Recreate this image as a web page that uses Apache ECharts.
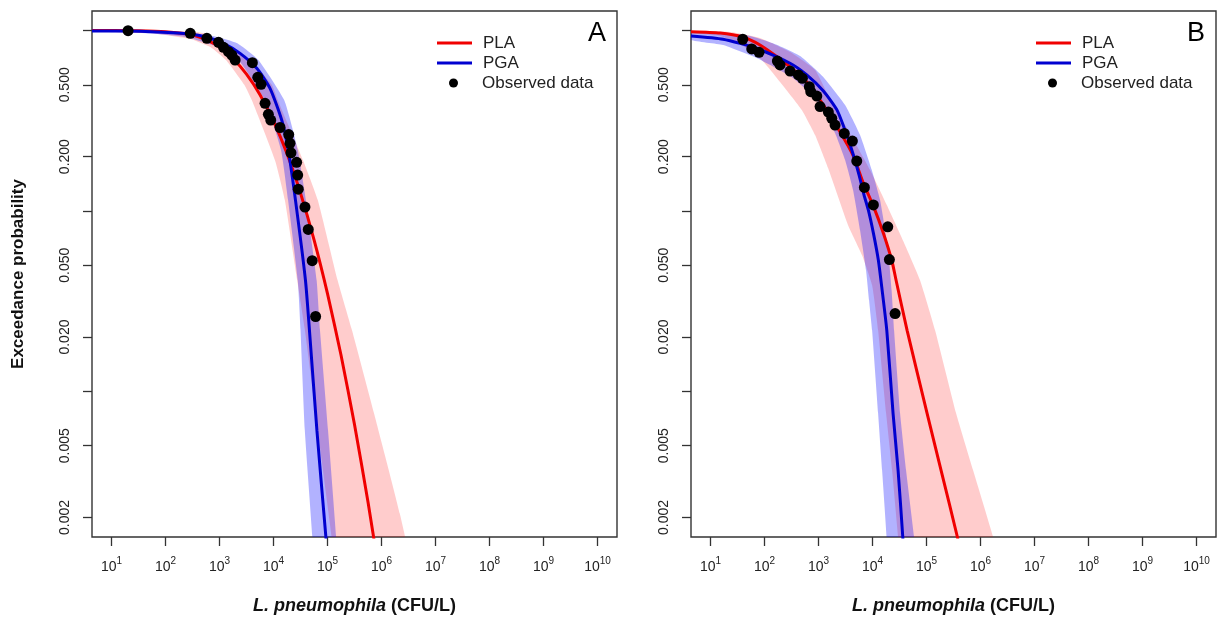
<!DOCTYPE html>
<html><head><meta charset="utf-8">
<script src="https://cdn.jsdelivr.net/npm/echarts@6/dist/echarts.min.js"></script>
<style>html,body{margin:0;padding:0;background:#fff}#chart{width:1218px;height:621px}</style>
</head><body><div id="chart"></div>
<script>
// x values: log10(CFU/L); y values: exceedance probability
const xTickExponents = [1, 2, 3, 4, 5, 6, 7, 8, 9, 10];
const yTickProbs = [0.002, 0.005, 0.01, 0.02, 0.05, 0.1, 0.2, 0.5, 1];
const yLabelProbs = [0.002, 0.005, 0.02, 0.05, 0.2, 0.5];
const panelLetters = ['A', 'B'];

// ---------- Panel A ----------
const obsA_x = [1.308, 2.459, 2.767, 2.982, 3.074, 3.166, 3.229, 3.290, 3.609, 3.709, 3.770, 3.844, 3.905, 3.949, 4.121, 4.282, 4.306, 4.324, 4.429, 4.448, 4.459, 4.583, 4.644, 4.717, 4.780];
const obsA_p = [0.997, 0.965, 0.905, 0.860, 0.807, 0.763, 0.731, 0.686, 0.663, 0.550, 0.503, 0.395, 0.343, 0.319, 0.290, 0.265, 0.237, 0.210, 0.186, 0.158, 0.132, 0.105, 0.079, 0.053, 0.026];

const plaA_x = [0.64, 1.0, 1.5, 2.0, 2.5, 2.75, 3.0, 3.25, 3.5, 3.75, 4.0, 4.25, 4.5, 4.75, 5.0, 5.25, 5.5, 5.75, 6.0];
const plaA_p = [0.9999, 0.9998, 0.998, 0.985, 0.945, 0.89, 0.81, 0.70, 0.573, 0.441, 0.315, 0.208, 0.1255, 0.0693, 0.0348, 0.0159, 0.00655, 0.00244, 0.00082];

const pgaA_x = [0.64, 1.222, 1.844, 2.459, 2.767, 3.074, 3.382, 3.691, 3.936, 4.152, 4.274, 4.407, 4.592, 4.666, 4.804, 4.970, 5.007];
const pgaA_p = [0.994, 0.993, 0.981, 0.956, 0.917, 0.849, 0.747, 0.617, 0.478, 0.319, 0.217, 0.1148, 0.0413, 0.0218, 0.00608, 0.00156, 0.00116];

const plaBandA_up_x = [0.64, 1.72, 2.46, 2.75, 2.95, 3.23, 3.57, 3.97, 4.08, 4.55, 4.82, 5.19, 5.45, 5.86, 6.34, 6.47];
const plaBandA_up_p = [1.0, 0.996, 0.987, 0.96, 0.88, 0.78, 0.686, 0.50, 0.41, 0.19, 0.115, 0.041, 0.022, 0.0076, 0.0021, 0.00116];
const plaBandA_lo_x = [0.64, 1.17, 1.72, 2.46, 2.83, 3.12, 3.46, 3.60, 4.03, 4.21, 4.44, 4.58, 4.82, 5.08, 5.12];
const plaBandA_lo_p = [0.994, 0.987, 0.969, 0.897, 0.81, 0.686, 0.50, 0.41, 0.19, 0.115, 0.041, 0.022, 0.0061, 0.00156, 0.00116];

const pgaBandA_up_x = [0.64, 1.72, 2.37, 2.92, 3.33, 3.72, 4.20, 4.45, 4.60, 4.80, 4.86, 5.01, 5.16, 5.17];
const pgaBandA_up_p = [1.0, 0.994, 0.975, 0.926, 0.849, 0.686, 0.41, 0.217, 0.115, 0.041, 0.022, 0.0061, 0.00156, 0.00116];
const pgaBandA_lo_x = [0.64, 1.72, 2.37, 2.92, 3.35, 3.84, 4.14, 4.27, 4.45, 4.50, 4.58, 4.72, 4.73];
const pgaBandA_lo_p = [0.9835, 0.962, 0.92, 0.82, 0.686, 0.41, 0.217, 0.115, 0.041, 0.022, 0.0061, 0.00156, 0.00116];

// ---------- Panel B ----------
const obsB_x = [1.598, 1.765, 1.900, 2.239, 2.289, 2.474, 2.628, 2.702, 2.831, 2.857, 2.969, 3.030, 3.183, 3.246, 3.307, 3.478, 3.628, 3.709, 3.850, 4.017, 4.283, 4.313, 4.419];
const obsB_p = [0.894, 0.790, 0.757, 0.677, 0.644, 0.596, 0.567, 0.543, 0.488, 0.458, 0.433, 0.379, 0.353, 0.326, 0.299, 0.269, 0.244, 0.189, 0.135, 0.108, 0.0816, 0.0538, 0.0270];

const plaB_x = [0.64, 1.178, 1.598, 1.918, 2.239, 2.474, 2.783, 3.030, 3.400, 3.646, 3.831, 4.017, 4.202, 4.357, 4.437, 4.641, 5.011, 5.270, 5.572, 5.659];
const plaB_p = [0.985, 0.969, 0.920, 0.831, 0.713, 0.628, 0.518, 0.4115, 0.2735, 0.2013, 0.1426, 0.1063, 0.0753, 0.0533, 0.0413, 0.0218, 0.00756, 0.00365, 0.00156, 0.00116];

const pgaB_x = [0.64, 1.233, 1.857, 2.474, 2.783, 3.091, 3.344, 3.511, 3.646, 3.752, 3.844, 3.924, 4.017, 4.109, 4.172, 4.265, 4.381, 4.474, 4.561, 4.585];
const pgaB_p = [0.932, 0.894, 0.797, 0.658, 0.567, 0.462, 0.362, 0.270, 0.204, 0.158, 0.1224, 0.1010, 0.0753, 0.0533, 0.0378, 0.0218, 0.00756, 0.00365, 0.00156, 0.00116];

const plaBandB_up_x = [0.64, 1.363, 1.918, 2.474, 2.937, 3.178, 3.548, 3.956, 4.265, 4.604, 4.881, 5.159, 5.548, 5.863, 6.233, 6.326];
const plaBandB_up_p = [0.9987, 0.981, 0.909, 0.760, 0.604, 0.439, 0.2806, 0.1684, 0.1077, 0.0646, 0.0413, 0.0218, 0.00756, 0.00365, 0.00156, 0.00116];
const plaBandB_lo_x = [0.64, 1.178, 1.548, 1.950, 2.289, 2.691, 2.937, 3.178, 3.548, 3.807, 3.993, 4.104, 4.252, 4.363, 4.474, 4.511];
const plaBandB_lo_p = [0.9748, 0.932, 0.842, 0.686, 0.518, 0.3623, 0.2632, 0.1727, 0.0834, 0.0569, 0.0388, 0.0218, 0.00756, 0.00365, 0.00156, 0.00116];

const pgaBandB_up_x = [0.64, 1.178, 1.733, 2.159, 2.659, 3.085, 3.493, 3.770, 3.987, 4.141, 4.289, 4.354, 4.400, 4.511, 4.622, 4.770, 4.807];
const pgaBandB_up_p = [0.9873, 0.9748, 0.932, 0.849, 0.722, 0.554, 0.386, 0.2632, 0.1684, 0.1148, 0.0606, 0.0364, 0.0218, 0.00756, 0.00365, 0.00156, 0.00116];
const pgaBandB_lo_x = [0.64, 1.233, 1.857, 2.474, 2.783, 3.085, 3.307, 3.493, 3.641, 3.770, 3.881, 3.937, 3.993, 4.104, 4.178, 4.261, 4.270];
const pgaBandB_lo_p = [0.886, 0.831, 0.704, 0.559, 0.468, 0.3716, 0.270, 0.1913, 0.1304, 0.0782, 0.0469, 0.0320, 0.0218, 0.00756, 0.00365, 0.00156, 0.00116];

// ---------- build ----------
const FONT = "'Liberation Sans', Arial, Helvetica, sans-serif";
const X_MIN = 0.64, X_MAX = 10.36;
const yLo = Math.log10(0.002), yHi = 0, yPad = 0.04 * (yHi - yLo);
const Y_MIN = yLo - yPad, Y_MAX = yHi + yPad;
const RED = '#f00000', BLUE = '#0000d0';

const pairs = (xs, ps) => xs.map((x, i) => [x, Math.log10(ps[i])]);

function band(gi, upX, upP, loX, loP, fill, name) {
  const up = pairs(upX, upP), lo = pairs(loX, loP).reverse();
  const pts = up.concat(lo);
  return {
    type: 'custom', name: name, xAxisIndex: gi, yAxisIndex: gi, clip: true, silent: true,
    data: [pts[0]], encode: {x: 0, y: 1},
    renderItem: (params, api) => ({
      type: 'polygon',
      shape: {points: pts.map(p => api.coord(p)), smooth: 0.15},
      style: {fill: fill}
    })
  };
}
function line(gi, name, xs, ps, color) {
  return {type: 'line', name: name, xAxisIndex: gi, yAxisIndex: gi, data: pairs(xs, ps),
    showSymbol: false, symbol: 'none', smooth: 0.2, clip: true, color: color,
    lineStyle: {color: color, width: 3}, z: 3};
}
function points(gi, xs, ps) {
  return {type: 'scatter', name: 'Observed data', xAxisIndex: gi, yAxisIndex: gi, data: pairs(xs, ps),
    symbol: 'circle', symbolSize: 11, color: '#000', itemStyle: {color: '#000', opacity: 1}, z: 4};
}

const panels = [
  {obs: [obsA_x, obsA_p], pla: [plaA_x, plaA_p], pga: [pgaA_x, pgaA_p],
   plaBand: [plaBandA_up_x, plaBandA_up_p, plaBandA_lo_x, plaBandA_lo_p],
   pgaBand: [pgaBandA_up_x, pgaBandA_up_p, pgaBandA_lo_x, pgaBandA_lo_p]},
  {obs: [obsB_x, obsB_p], pla: [plaB_x, plaB_p], pga: [pgaB_x, pgaB_p],
   plaBand: [plaBandB_up_x, plaBandB_up_p, plaBandB_lo_x, plaBandB_lo_p],
   pgaBand: [pgaBandB_up_x, pgaBandB_up_p, pgaBandB_lo_x, pgaBandB_lo_p]}
];

const gridLefts = [92, 691];
const grids = gridLefts.map(l => ({left: l, top: 11, width: 525, height: 526, show: true,
  borderColor: '#333', borderWidth: 1.4, backgroundColor: 'transparent'}));

const xAxes = gridLefts.map((l, gi) => ({
  type: 'value', gridIndex: gi, min: X_MIN, max: X_MAX, position: 'bottom',
  name: '{i|L. pneumophila} (CFU/L)', nameLocation: 'middle', nameGap: 60,
  nameTextStyle: {fontFamily: FONT, fontSize: 18, fontWeight: 'bold', color: '#111',
    rich: {i: {fontFamily: FONT, fontSize: 18, fontWeight: 'bold', fontStyle: 'italic', color: '#111'}}},
  axisLine: {show: false, onZero: false}, splitLine: {show: false},
  axisTick: {show: true, customValues: xTickExponents, length: 9, lineStyle: {color: '#333', width: 1.3}},
  axisLabel: {show: true, customValues: xTickExponents, margin: 19,
    formatter: v => '{b|10}{s|' + v + '}',
    rich: {b: {fontFamily: FONT, fontSize: 14, color: '#222', lineHeight: 18, verticalAlign: 'bottom'},
           s: {fontFamily: FONT, fontSize: 10, color: '#222', lineHeight: 18, verticalAlign: 'top'}}}
}));

const yAxes = gridLefts.map((l, gi) => ({
  type: 'value', gridIndex: gi, min: Y_MIN, max: Y_MAX, position: 'left',
  name: gi === 0 ? 'Exceedance probability' : '', nameLocation: 'middle', nameGap: 65,
  nameTextStyle: {fontFamily: FONT, fontSize: 17, fontWeight: 'bold', color: '#111'},
  axisLine: {show: false, onZero: false}, splitLine: {show: false},
  axisTick: {show: true, customValues: yTickProbs.map(p => Math.log10(p)), length: 9, lineStyle: {color: '#333', width: 1.3}},
  axisLabel: {show: true, rotate: 90, margin: 20, customValues: yLabelProbs.map(p => Math.log10(p)),
    formatter: v => Math.pow(10, v).toFixed(3),
    fontFamily: FONT, fontSize: 14, color: '#222'}
}));

const series = [];
panels.forEach((pn, gi) => {
  series.push(band(gi, ...pn.plaBand, 'rgba(255,0,0,0.2)', 'PLA band'));
  series.push(band(gi, ...pn.pgaBand, 'rgba(0,0,255,0.3)', 'PGA band'));
  series.push(line(gi, 'PLA', pn.pla[0], pn.pla[1], RED));
  series.push(line(gi, 'PGA', pn.pga[0], pn.pga[1], BLUE));
  series.push(points(gi, pn.obs[0], pn.obs[1]));
});

const legendText = {fontFamily: FONT, fontSize: 17, color: '#222', lineHeight: 20, padding: [0, 0, 0, 6]};
const legendLefts = [437, 1036];
const legends = [];
legendLefts.forEach(l => {
  legends.push({orient: 'vertical', left: l, top: 33, padding: 0, itemGap: 0, itemWidth: 35, itemHeight: 3,
    selectedMode: false, data: [{name: 'PLA', icon: 'rect'}, {name: 'PGA', icon: 'rect'}], textStyle: legendText});
  legends.push({orient: 'vertical', left: l + 12, top: 73, padding: 0, itemGap: 0, itemWidth: 35, itemHeight: 9,
    selectedMode: false, data: [{name: 'Observed data', icon: 'circle'}], textStyle: legendText});
});

const letterLefts = [588, 1187];
const graphics = panelLetters.map((t, i) => ({type: 'text', left: letterLefts[i], top: 20,
  style: {text: t, fontFamily: FONT, fontSize: 27, fill: '#000'}}));

const chart = echarts.init(document.getElementById('chart'), null, {renderer: 'canvas'});
chart.setOption({
  animation: false,
  backgroundColor: '#fff',
  grid: grids, xAxis: xAxes, yAxis: yAxes, legend: legends, series: series, graphic: graphics
});
</script></body></html>
